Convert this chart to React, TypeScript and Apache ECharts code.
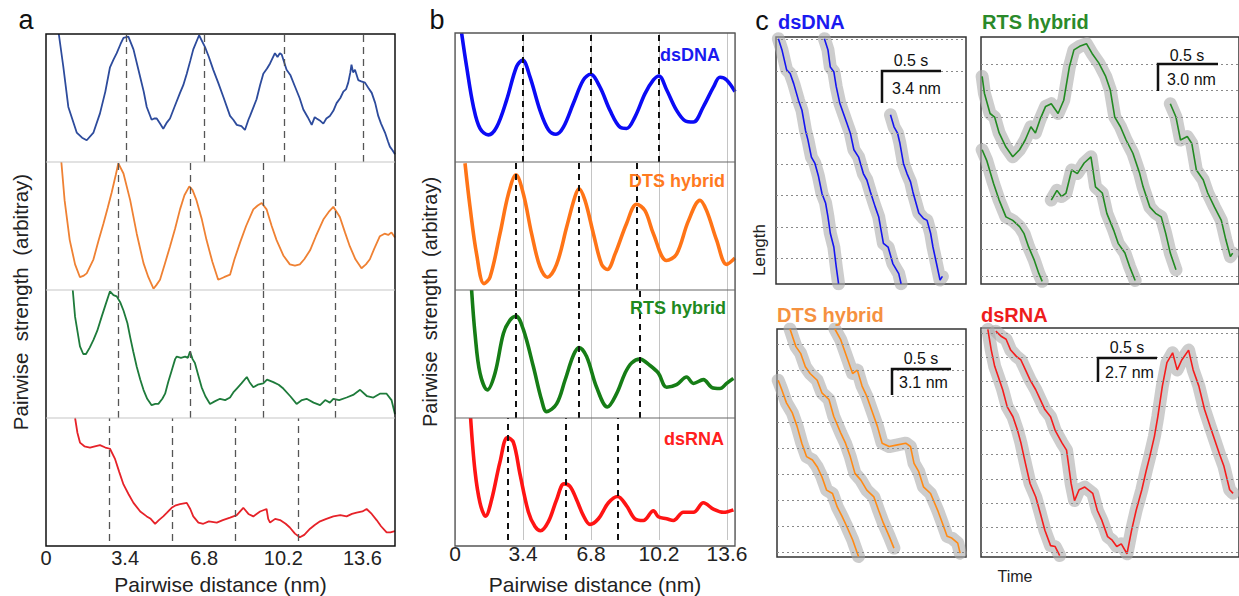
import React, { useEffect, useRef } from "react";
import * as echarts from "echarts";

type P = [number, number];
const FONT = "'Liberation Sans', Arial, sans-serif";

// ---------- Panel a: pairwise strength vs distance (raw) ----------
const distTickLabels = ["0", "3.4", "6.8", "10.2", "13.6"];

const aDsDNA: P[] = [[0.55,100],[0.74,75],[0.96,43],[1.32,23],[1.55,19],[1.75,17],[2.04,23],[2.32,38],[2.55,55],[2.75,74],[2.9,80],[3.04,85],[3.2,92],[3.33,97],[3.54,98],[3.76,88],[4.04,67],[4.2,55],[4.33,43],[4.54,33],[4.65,34],[4.76,34],[4.9,30],[5.04,26],[5.2,31],[5.33,34],[5.5,42],[5.76,54],[5.9,60],[6.05,69],[6.2,79],[6.33,88],[6.58,99],[6.83,90],[7.0,82],[7.19,72],[7.4,62],[7.62,51],[7.91,36],[8.05,33],[8.2,29],[8.4,28],[8.55,25],[8.7,33],[8.77,36],[9.05,49],[9.2,60],[9.34,69],[9.5,73],[9.63,77],[9.84,85],[9.95,82],[10.05,85],[10.13,84],[10.34,72],[10.5,68],[10.7,59],[10.9,50],[11.06,41],[11.25,35],[11.42,29],[11.55,35],[11.63,34],[11.8,32],[11.92,30],[12.05,34],[12.2,36],[12.35,40],[12.49,46],[12.65,50],[12.78,55],[12.9,57],[12.99,62],[13.08,70],[13.13,76],[13.2,70],[13.28,72],[13.42,64],[13.55,63],[13.71,62],[13.85,58],[14.0,54],[14.15,46],[14.28,36],[14.4,30],[14.57,23],[14.7,16],[14.78,12],[14.9,9],[15.0,6]];
const aDTS: P[] = [[0.66,100],[0.8,70],[1.02,39],[1.25,20],[1.46,10],[1.6,11],[1.75,13],[2.04,24],[2.25,38],[2.47,52],[2.65,64],[2.82,76],[3.0,90],[3.11,99],[3.33,91],[3.62,70],[3.9,44],[4.05,32],[4.19,21],[4.4,10],[4.62,1],[4.75,4],[4.9,8],[5.1,20],[5.33,34],[5.55,48],[5.76,63],[5.95,74],[6.16,81],[6.3,78],[6.47,70],[6.7,55],[6.9,39],[7.15,22],[7.4,8],[7.65,10],[7.91,12],[8.1,24],[8.34,37],[8.6,50],[8.91,63],[9.1,66],[9.27,68],[9.48,63],[9.7,50],[9.91,39],[10.2,27],[10.48,20],[10.7,19],[10.91,20],[11.1,24],[11.35,31],[11.6,42],[11.92,55],[12.15,61],[12.35,65],[12.63,57],[12.85,45],[13.06,34],[13.3,24],[13.56,17],[13.75,20],[13.92,24],[14.1,32],[14.35,42],[14.55,44],[14.71,43],[14.85,45],[15.0,41]];
const aRTS: P[] = [[1.15,100],[1.25,79],[1.46,56],[1.6,50],[1.72,50],[1.88,55],[2.04,61],[2.2,68],[2.39,79],[2.55,88],[2.75,99],[2.9,96],[3.04,95],[3.2,90],[3.33,84],[3.5,74],[3.62,63],[3.75,52],[3.9,40],[4.05,30],[4.19,22],[4.35,15],[4.54,10],[4.7,11],[4.83,11],[5.0,15],[5.12,19],[5.25,28],[5.4,37],[5.55,46],[5.62,48],[5.8,47],[5.98,48],[6.1,47],[6.19,52],[6.3,46],[6.4,43],[6.55,33],[6.69,24],[6.85,17],[7.05,11],[7.25,13],[7.48,15],[7.7,14],[7.91,16],[8.05,20],[8.2,23],[8.4,27],[8.63,32],[8.75,28],[8.91,24],[9.1,26],[9.34,27],[9.5,30],[9.77,28],[10.0,26],[10.2,23],[10.5,17],[10.77,11],[11.0,14],[11.2,15],[11.5,12],[11.78,10],[12.0,14],[12.2,12],[12.35,15],[12.6,14],[12.92,16],[13.2,18],[13.5,22],[13.8,17],[14.07,16],[14.35,19],[14.64,19],[14.85,14],[15.0,3]];
const aRNA: P[] = [[1.25,100],[1.35,88],[1.46,80],[1.65,77],[1.89,76],[2.1,77],[2.32,78],[2.55,76],[2.75,75],[2.96,67],[3.15,56],[3.33,46],[3.55,38],[3.76,31],[4.05,24],[4.33,20],[4.5,18],[4.69,14],[4.85,17],[5.04,20],[5.2,23],[5.4,27],[5.58,29],[5.76,30],[6.05,31],[6.2,26],[6.33,20],[6.55,15],[6.76,14],[7.0,16],[7.34,15],[7.6,17],[7.91,19],[8.2,21],[8.48,27],[8.7,22],[8.91,20],[9.2,24],[9.48,26],[9.55,18],[9.63,15],[9.85,18],[10.06,17],[10.3,14],[10.48,11],[10.7,6],[10.91,3],[11.1,5],[11.35,10],[11.55,13],[11.78,16],[12.05,18],[12.35,20],[12.65,21],[12.92,20],[13.15,22],[13.35,23],[13.6,24],[13.78,26],[14.0,22],[14.21,17],[14.4,12],[14.64,7],[14.8,7],[15.0,8]];

const aPeaksDsDNA = [3.44, 6.79, 10.23, 13.62];
const aPeaksDTS = [3.09, 6.19, 9.33, 12.42];
const aPeaksRTS = [3.09, 6.19, 9.33, 12.42];
const aPeaksRNA = [2.71, 5.41, 8.12, 10.83];

// ---------- Panel b: smoothed ----------
const bDsDNA: P[] = [[0.33,100],[0.58,74],[0.92,43],[1.25,26],[1.67,21],[2.08,27],[2.58,48],[3.08,74],[3.38,79],[3.75,66],[4.25,40],[4.67,25],[5.05,21.5],[5.42,27],[5.92,45.5],[6.42,63.6],[6.78,68],[7.25,58],[7.75,40],[8.25,27],[8.58,26],[9.0,35],[9.5,53],[9.92,63.6],[10.2,66.7],[10.58,56],[11.08,40],[11.5,32],[11.92,31],[12.42,43],[12.92,58],[13.25,65.7],[13.58,63.6],[14.0,54.5]];
const bDTS: P[] = [[0.5,99],[0.75,65],[1.08,28],[1.45,5],[1.75,10],[2.25,44],[2.67,75],[3.05,90],[3.42,75],[3.83,44],[4.25,18],[4.62,10],[5.08,20],[5.58,49],[6.0,73],[6.2,79],[6.5,70],[6.92,44],[7.33,20],[7.62,16],[8.0,28],[8.58,52],[9.08,67],[9.5,62],[9.92,44],[10.58,23],[11.08,28],[11.67,54],[12.25,70],[12.58,62],[13.08,39],[13.58,20],[14.0,25]];
const bRTS: P[] = [[0.83,100],[1.0,66],[1.25,35],[1.62,22],[2.0,35],[2.42,66],[2.75,76.5],[3.05,79.6],[3.42,69],[3.92,40],[4.33,14],[4.58,5],[5.08,11],[5.5,29.5],[5.92,49],[6.2,55],[6.58,48],[7.08,24],[7.62,8.6],[8.08,19],[8.5,35],[8.83,43],[9.25,46],[9.75,41],[10.17,35],[10.58,24],[11.08,26],[11.58,32],[11.92,27],[12.42,30],[12.83,24],[13.25,23],[13.58,27],[13.92,31]];
const bRNA: P[] = [[0.78,100],[1.0,56.5],[1.25,30.5],[1.53,19.5],[1.83,33],[2.25,64],[2.62,84],[2.92,80],[3.25,54],[3.67,23],[4.0,11],[4.28,7.6],[4.67,15],[5.08,33],[5.45,46],[5.75,44],[6.08,33],[6.42,20],[6.75,12.8],[7.17,17.4],[7.67,30.5],[8.13,35.7],[8.58,28],[9.0,17.4],[9.42,16],[9.92,24],[10.17,19],[10.58,17.4],[10.92,16],[11.42,22.7],[11.92,22.7],[12.42,30.5],[12.92,25.3],[13.42,22.7],[13.92,24.7]];

const bPeaksDsDNA = [3.4, 6.8, 10.2];
const bPeaksDTS = [3.05, 6.2, 9.1];
const bPeaksRTS = [3.05, 6.2, 9.25];
const bPeaksRNA = [2.65, 5.55, 8.15];

// ---------- Panel c: traces (time s, length nm) ----------
const cDsDNA1: P[] = [[0.02,23.9],[0.05,22.7],[0.09,20.5],[0.12,20.1],[0.15,19.0],[0.19,17.2],[0.22,16.1],[0.25,13.9],[0.27,12.9],[0.30,11.0],[0.33,10.3],[0.36,8.9],[0.39,7.0],[0.42,6.0],[0.44,4.5],[0.46,2.7],[0.49,1.2],[0.51,-0.9],[0.53,-2.8]];
const cDsDNA2: P[] = [[0.41,23.9],[0.44,22.7],[0.46,20.8],[0.49,20.3],[0.51,18.7],[0.54,16.9],[0.57,15.8],[0.60,14.7],[0.63,13.6],[0.66,11.8],[0.70,11.0],[0.74,9.2],[0.77,8.5],[0.80,7.2],[0.84,5.6],[0.87,4.5],[0.91,1.6],[0.95,1.2],[0.99,-0.6],[1.04,-1.7],[1.06,-2.8]];
const cDsDNA3: P[] = [[0.97,15.6],[1.00,14.3],[1.03,13.6],[1.05,12.5],[1.08,10.3],[1.11,9.2],[1.14,8.3],[1.16,7.2],[1.21,4.9],[1.25,4.3],[1.28,4.1],[1.31,2.7],[1.33,1.2],[1.36,-0.6],[1.39,-2.4],[1.41,-2.0]];

const cRTS1: P[] = [[0.01,22.6],[0.03,20.7],[0.08,18.4],[0.12,18.0],[0.16,16.2],[0.22,14.6],[0.28,13.5],[0.34,14.3],[0.39,15.4],[0.44,16.9],[0.48,16.2],[0.52,17.7],[0.57,19.2],[0.62,19.5],[0.68,18.4],[0.73,19.9],[0.78,23.7],[0.82,25.6],[0.87,26.0],[0.93,26.3],[0.98,25.2],[1.04,24.1],[1.10,22.6],[1.14,21.1],[1.18,18.0],[1.23,16.9],[1.28,15.4],[1.34,13.9],[1.40,11.6],[1.43,10.1],[1.49,7.8],[1.54,7.1],[1.59,6.7],[1.63,4.8],[1.67,2.6],[1.72,0.7]];
const cRTS2: P[] = [[0.01,14.3],[0.05,13.1],[0.11,10.5],[0.16,8.6],[0.22,6.7],[0.28,6.3],[0.34,5.6],[0.38,4.8],[0.42,3.3],[0.47,1.8],[0.51,0.3],[0.54,-0.6]];
const cRTS3: P[] = [[0.62,8.6],[0.67,9.7],[0.71,9.0],[0.75,9.4],[0.80,12.0],[0.85,11.6],[0.91,12.8],[0.97,13.5],[1.01,10.1],[1.07,9.4],[1.11,7.1],[1.17,5.2],[1.21,3.7],[1.27,2.6],[1.31,1.1],[1.36,-0.5]];
const cRTS4: P[] = [[1.67,19.5],[1.72,18.0],[1.76,15.4],[1.82,15.8],[1.86,15.0],[1.90,12.0],[1.96,10.9],[2.00,9.4],[2.06,7.8],[2.12,6.3],[2.16,4.1],[2.20,2.2],[2.22,2.6]];

const cDTS1: P[] = [[0.01,20.5],[0.04,19.4],[0.08,17.8],[0.13,16.6],[0.17,15.0],[0.21,13.0],[0.25,11.4],[0.30,11.0],[0.34,10.2],[0.38,9.0],[0.42,7.4],[0.47,7.0],[0.51,5.4],[0.55,4.3],[0.59,3.1],[0.64,1.5],[0.66,0.7],[0.69,-0.5]];
const cDTS2: P[] = [[0.11,26.6],[0.16,24.5],[0.20,23.7],[0.24,22.1],[0.28,21.3],[0.34,20.5],[0.38,19.0],[0.44,18.2],[0.48,16.2],[0.54,14.2],[0.58,13.0],[0.62,11.4],[0.66,9.4],[0.71,8.6],[0.76,7.4],[0.82,6.6],[0.86,5.0],[0.90,3.5],[0.95,1.9],[0.99,0.5]];
const cDTS3: P[] = [[0.49,26.6],[0.54,25.3],[0.59,23.3],[0.64,21.3],[0.68,21.7],[0.72,19.8],[0.76,18.6],[0.81,16.6],[0.85,15.0],[0.89,13.0],[0.95,12.6],[1.02,12.8],[1.09,13.0],[1.13,12.6],[1.16,10.6],[1.20,9.6],[1.24,7.8],[1.30,7.0],[1.36,5.0],[1.40,3.5],[1.44,1.9],[1.48,1.7],[1.53,1.1],[1.55,-0.1]];

const cRNA1: P[] = [[0.06,24.7],[0.09,22.4],[0.12,20.6],[0.15,19.5],[0.19,18.0],[0.23,16.1],[0.28,15.0],[0.32,13.5],[0.35,12.1],[0.39,9.8],[0.43,7.6],[0.48,6.1],[0.52,4.3],[0.56,2.4],[0.61,0.7],[0.65,0.6],[0.69,-0.4]];
const cRNA2: P[] = [[0.13,24.5],[0.18,23.9],[0.22,23.6],[0.26,22.4],[0.31,21.7],[0.35,21.3],[0.39,20.2],[0.43,19.1],[0.48,18.0],[0.52,16.9],[0.56,15.8],[0.61,15.0],[0.65,13.5],[0.71,12.1],[0.75,11.3],[0.79,7.6],[0.82,5.7],[0.86,6.9],[0.91,7.2],[0.98,6.5],[1.02,4.6],[1.06,3.5],[1.11,1.7],[1.15,1.3],[1.19,0.6],[1.23,0.9],[1.28,-0.2],[1.32,2.4],[1.36,4.6],[1.41,6.9],[1.45,9.1],[1.48,10.6],[1.52,12.8],[1.55,15.0],[1.59,18.4],[1.63,21.0],[1.68,22.1],[1.72,20.2],[1.76,21.3],[1.82,22.4],[1.86,20.2],[1.91,18.4],[1.96,15.8],[2.01,13.9],[2.05,12.4],[2.09,10.9],[2.13,9.5],[2.18,6.9],[2.21,6.5]];

const stepDsDNA = 3.4;
const stepRTS = 3.0;
const stepDTS = 3.1;
const stepRNA = 2.7;
const levelsDsDNA = [0, 1, 2, 3, 4, 5, 6, 7];
const levelsRTS = [0, 1, 2, 3, 4, 5, 6, 7, 8];
const levelsDTS = [0, 1, 2, 3, 4, 5, 6, 7, 8];
const levelsRNA = [0, 1, 2, 3, 4, 5, 6, 7, 8, 9];

function buildOption() {
  const grid: any[] = [];
  const xAxis: any[] = [];
  const yAxis: any[] = [];
  const series: any[] = [];

  const aPanels = [
    { data: aDsDNA, peaks: aPeaksDsDNA, color: "#2d4b9c" },
    { data: aDTS, peaks: aPeaksDTS, color: "#ef8133" },
    { data: aRTS, peaks: aPeaksRTS, color: "#1e7b3b" },
    { data: aRNA, peaks: aPeaksRNA, color: "#e62229" },
  ];
  const tops = [34, 162, 290, 418];
  const distLabel = (v: number) => {
    const idx = Math.round(v / 3.4);
    return Math.abs(v - idx * 3.4) < 1e-6 && distTickLabels[idx] ? distTickLabels[idx] : "";
  };

  aPanels.forEach((p, i) => {
    const gi = grid.length;
    const last = i === 3;
    grid.push({ left: 46, top: tops[i], width: 349, height: 128 });
    xAxis.push({
      gridIndex: gi, type: "value", min: 0, max: 15, interval: 3.4,
      axisLine: { show: false }, axisTick: { show: false }, splitLine: { show: false },
      axisLabel: { show: last, fontSize: 20, color: "#222", margin: 7, showMaxLabel: false, formatter: distLabel },
      name: last ? "Pairwise distance (nm)" : "", nameLocation: "middle", nameGap: 33,
      nameTextStyle: { fontSize: 21, color: "#222" },
    });
    yAxis.push({ gridIndex: gi, type: "value", min: 0, max: 100, show: false });
    series.push({
      type: "line", xAxisIndex: gi, yAxisIndex: gi, data: p.data, showSymbol: false,
      lineStyle: { color: p.color, width: 1.8 }, z: 3,
      markLine: {
        silent: true, symbol: ["none", "none"], label: { show: false },
        lineStyle: { type: [7, 5], color: "#555", width: 1.3 },
        data: p.peaks.map((v) => ({ xAxis: v })),
      },
    });
  });

  const bPanels = [
    { data: bDsDNA, peaks: bPeaksDsDNA, color: "#0b0bf5" },
    { data: bDTS, peaks: bPeaksDTS, color: "#ff7417" },
    { data: bRTS, peaks: bPeaksRTS, color: "#167d16" },
    { data: bRNA, peaks: bPeaksRNA, color: "#ff1414" },
  ];
  const bTops = [33, 162, 290, 418];
  const bHs = [129, 128, 128, 128];
  bPanels.forEach((p, i) => {
    const gi = grid.length;
    const last = i === 3;
    grid.push({ left: 455, top: bTops[i], width: 280, height: bHs[i] });
    xAxis.push({
      gridIndex: gi, type: "value", min: 0, max: 14, interval: 3.4,
      axisLine: { show: false }, axisTick: { show: false },
      splitLine: { show: true, lineStyle: { color: "#c4c4c4", width: 1 } },
      axisLabel: { show: last, fontSize: 21, color: "#222", margin: 3, showMaxLabel: false, formatter: distLabel },
      name: last ? "Pairwise distance (nm)" : "", nameLocation: "middle", nameGap: 34,
      nameTextStyle: { fontSize: 21, color: "#222" },
    });
    yAxis.push({ gridIndex: gi, type: "value", min: 0, max: 100, show: false });
    series.push({
      type: "line", xAxisIndex: gi, yAxisIndex: gi, data: p.data, showSymbol: false, smooth: 0.35,
      lineStyle: { color: p.color, width: 3.6 }, z: 3,
      markLine: {
        silent: true, symbol: ["none", "none"], label: { show: false },
        lineStyle: { type: [6, 5], color: "#111", width: 2 },
        data: p.peaks.map((v) => ({ xAxis: v })),
      },
    });
  });

  const cPanels = [
    { box: [776, 37, 190, 247], x: [0, 1.61], y: [-2.83, 24.08], step: stepDsDNA, levels: levelsDsDNA, traces: [cDsDNA1, cDsDNA2, cDsDNA3], color: "#1414f0" },
    { box: [981, 37, 264, 247], x: [0, 2.276], y: [-0.9, 27.06], step: stepRTS, levels: levelsRTS, traces: [cRTS1, cRTS2, cRTS3, cRTS4], color: "#228a22" },
    { box: [777, 329, 189, 228], x: [0, 1.6], y: [-0.56, 26.6], step: stepDTS, levels: levelsDTS, traces: [cDTS1, cDTS2, cDTS3], color: "#ff8a14" },
    { box: [981, 328, 264, 229], x: [0, 2.262], y: [-0.56, 24.85], step: stepRNA, levels: levelsRNA, traces: [cRNA1, cRNA2], color: "#f51c1c" },
  ];
  cPanels.forEach((p) => {
    const gi = grid.length;
    grid.push({ left: p.box[0], top: p.box[1], width: p.box[2], height: p.box[3], show: true, borderColor: "#333", borderWidth: 1.5, backgroundColor: "transparent" });
    xAxis.push({ gridIndex: gi, type: "value", min: p.x[0], max: p.x[1], show: false });
    yAxis.push({ gridIndex: gi, type: "value", min: p.y[0], max: p.y[1], show: false });
    series.push({
      type: "line", xAxisIndex: gi, yAxisIndex: gi, data: p.traces[0], showSymbol: false,
      lineStyle: { opacity: 0 }, z: 1,
      markLine: {
        silent: true, symbol: ["none", "none"], label: { show: false },
        lineStyle: { type: [2, 3], color: "#8a8a8a", width: 1 },
        data: p.levels.map((k) => ({ yAxis: k * p.step })),
      },
    });
    p.traces.forEach((t) => {
      series.push({
        type: "line", xAxisIndex: gi, yAxisIndex: gi, data: t, showSymbol: false,
        lineStyle: { color: "rgba(172,172,172,0.6)", width: 13, join: "round", cap: "round" }, z: 2,
      });
    });
    p.traces.forEach((t) => {
      series.push({
        type: "line", xAxisIndex: gi, yAxisIndex: gi, data: t, showSymbol: false,
        lineStyle: { color: p.color, width: 1.6 }, z: 3,
      });
    });
  });

  const txt = (text: string, x: number, y: number, font: string, fill: string, align = "left", rotation = 0) => ({
    type: "text", x, y, rotation, z: 200,
    style: { text, font: `${font} ${FONT}`, fill, textAlign: align, textVerticalAlign: "middle" },
  });
  const line = (x1: number, y1: number, x2: number, y2: number, stroke: string, w: number) => ({
    type: "line", z: 150, shape: { x1, y1, x2, y2 }, style: { stroke, lineWidth: w },
  });
  const bar = (x: number, y: number, len: number, vlen: number) => ({
    type: "polyline", z: 150, shape: { points: [[x, y + vlen], [x, y], [x + len, y]] },
    style: { stroke: "#111", lineWidth: 2.5, fill: "none" },
  });

  const graphic: any[] = [
    { type: "rect", z: 150, shape: { x: 46, y: 34, width: 349, height: 512 }, style: { fill: "none", stroke: "#111", lineWidth: 1.5 } },
    line(46, 162, 395, 162, "#c6c6c6", 1.2),
    line(46, 290, 395, 290, "#c6c6c6", 1.2),
    line(46, 418, 395, 418, "#c6c6c6", 1.2),
    { type: "rect", z: 150, shape: { x: 455, y: 33, width: 280, height: 513 }, style: { fill: "none", stroke: "#555", lineWidth: 1.3 } },
    line(455, 162, 735, 162, "#666", 1.2),
    line(455, 290, 735, 290, "#666", 1.2),
    line(455, 418, 735, 418, "#666", 1.2),
    txt("a", 26, 20, "27px", "#111", "center"),
    txt("b", 437, 20, "27px", "#111", "center"),
    txt("c", 762, 21, "27px", "#111", "center"),
    txt("Pairwise  strength  (arbitray)", 20, 302, "20.5px", "#222", "center", Math.PI / 2),
    txt("Pairwise  strength  (arbitray)", 430, 302, "20px", "#222", "center", Math.PI / 2),
    txt("dsDNA", 720, 55, "bold 18px", "#1a1af0", "right"),
    txt("DTS hybrid", 725, 181, "bold 18px", "#ff7a1f", "right"),
    txt("RTS hybrid", 726, 308, "bold 18px", "#1f8a1f", "right"),
    txt("dsRNA", 724, 439, "bold 18px", "#ff2020", "right"),
    txt("dsDNA", 778, 22, "bold 20px", "#1a1af0"),
    txt("RTS hybrid", 982, 22, "bold 20px", "#2a8a2a"),
    txt("DTS hybrid", 777, 315, "bold 20px", "#f5913f"),
    txt("dsRNA", 981, 315, "bold 20px", "#ee1c1c"),
    txt("Length", 759, 250, "17px", "#222", "center", Math.PI / 2),
    txt("Time", 1015, 576, "16px", "#222", "center"),
    bar(882, 71, 59, 32),
    txt("0.5 s", 911, 60, "16px", "#111", "center"),
    txt("3.4 nm", 892, 88, "16px", "#111"),
    bar(1158, 64, 60, 27),
    txt("0.5 s", 1187, 55, "16px", "#111", "center"),
    txt("3.0 nm", 1167, 79, "16px", "#111"),
    bar(892, 369, 59, 26),
    txt("0.5 s", 921, 358, "16px", "#111", "center"),
    txt("3.1 nm", 899, 382, "16px", "#111"),
    bar(1098, 358, 59, 24),
    txt("0.5 s", 1127, 347, "16px", "#111", "center"),
    txt("2.7 nm", 1105, 372, "16px", "#111"),
  ];

  return {
    animation: false,
    backgroundColor: "#fff",
    textStyle: { fontFamily: FONT },
    grid, xAxis, yAxis, series, graphic,
  };
}

export default function App() {
  const ref = useRef<HTMLDivElement>(null);
  useEffect(() => {
    const chart = echarts.init(ref.current!, null, { renderer: "svg" });
    chart.setOption(buildOption() as any);
    return () => chart.dispose();
  }, []);
  return (
    <div
      ref={ref}
      style={{ position: "absolute", left: 0, top: 0, width: 1239, height: 596, background: "#fff" }}
    />
  );
}
